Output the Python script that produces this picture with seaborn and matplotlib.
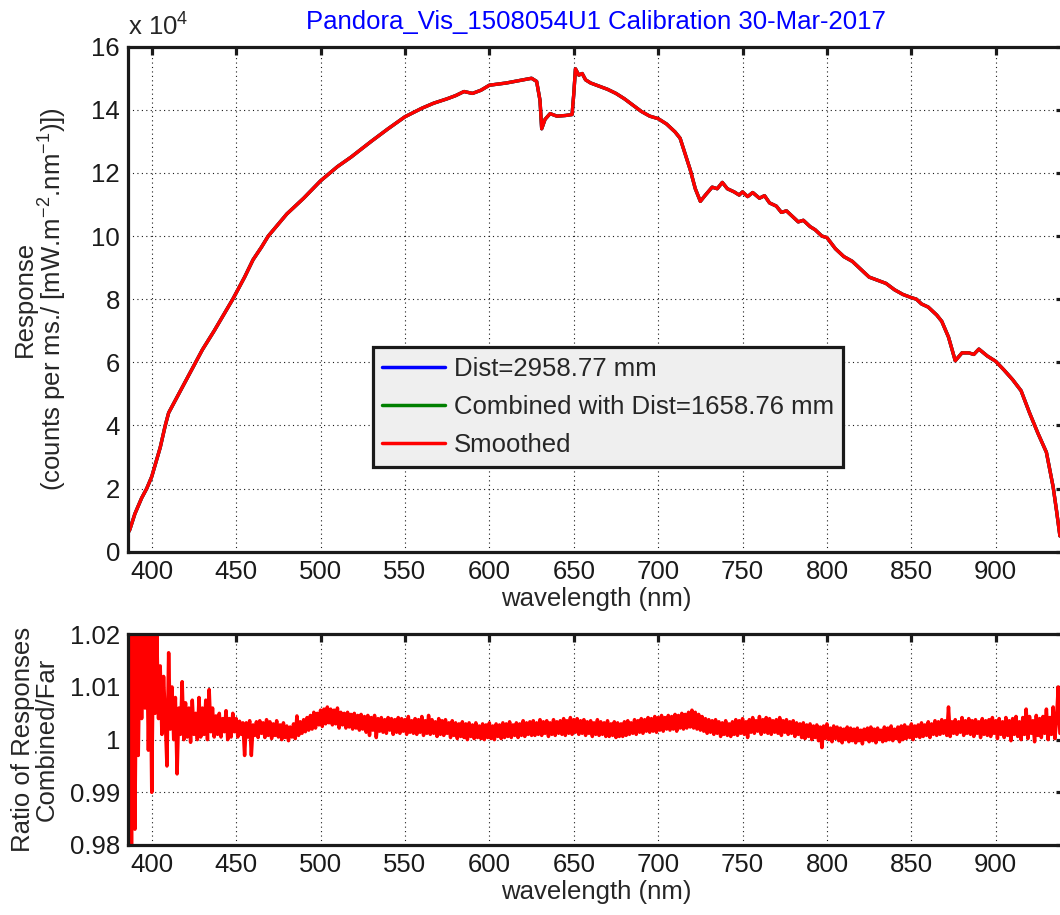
import numpy as np
import pandas as pd
import matplotlib
matplotlib.use("Agg")
import matplotlib.pyplot as plt
import seaborn as sns

# ---------------- data ----------------
title = "Pandora_Vis_1508054U1 Calibration 30-Mar-2017"
series_names = ["Dist=2958.77 mm", "Combined with Dist=1658.76 mm", "Smoothed"]
series_colors = ["#0000ff", "#008000", "#ff0000"]

wavelength = [386, 387, 390, 394, 397, 400, 405, 408, 410, 415, 420, 426, 430, 437,
              448, 455, 460, 465, 469, 480, 490, 500, 510, 518, 530, 540, 550, 560,
              567, 575, 580, 585, 590, 595, 600, 610, 620, 625, 628, 630, 631, 633,
              636, 640, 645, 649, 650, 651, 653, 655, 657, 660, 665, 670, 675, 680,
              685, 690, 695, 700, 705, 710, 713, 716, 719, 722, 725, 728, 732, 735,
              738, 741, 745, 748, 750, 753, 756, 760, 763, 766, 770, 773, 776, 780,
              783, 786, 790, 793, 797, 800, 805, 810, 815, 820, 825, 830, 835, 840,
              845, 850, 853, 856, 860, 865, 868, 872, 876, 880, 884, 887, 890, 895,
              900, 905, 910, 915, 920, 925, 930, 934, 936, 938]
# response in units of 1e4 counts per ms / [mW m-2 nm-1]
response = [0.60, 0.70, 1.20, 1.70, 2.00, 2.38, 3.30, 4.00, 4.40, 4.90, 5.40, 6.00,
            6.40, 7.00, 8.00, 8.70, 9.25, 9.65, 10.00, 10.70, 11.20, 11.75, 12.20,
            12.50, 13.00, 13.40, 13.78, 14.05, 14.21, 14.35, 14.45, 14.58, 14.52,
            14.62, 14.78, 14.85, 14.95, 15.00, 14.90, 14.30, 13.40, 13.70, 13.88,
            13.80, 13.82, 13.85, 14.50, 15.30, 15.10, 15.15, 14.95, 14.85, 14.75,
            14.65, 14.52, 14.35, 14.15, 13.95, 13.80, 13.72, 13.55, 13.30, 13.10,
            12.60, 12.10, 11.50, 11.10, 11.30, 11.55, 11.50, 11.70, 11.50, 11.40,
            11.30, 11.40, 11.25, 11.38, 11.20, 11.28, 11.05, 10.95, 10.75, 10.80,
            10.60, 10.45, 10.50, 10.30, 10.20, 10.00, 9.95, 9.60, 9.35, 9.20, 8.95,
            8.70, 8.60, 8.50, 8.30, 8.15, 8.05, 8.00, 7.85, 7.75, 7.50, 7.30, 6.80,
            6.05, 6.30, 6.30, 6.25, 6.42, 6.20, 6.03, 5.75, 5.45, 5.10, 4.40, 3.75,
            3.15, 2.05, 1.30, 0.50]

ratio_start_nm = 386
# ratio (Combined/Far) - 1, in units of 1e-4, one value per nm from 386 nm
ratio_dev_e4 = [
    -200, 200, -200, 200, -170, 200, -30, 200, 40, 200,
    60, 200, -20, 200, -100, 200, 50, 200, 40, 140,
    10, 120, 40, -50, 165, 20, 100, 0, 80, -65,
    60, 10, 110, 0, 70, 5, 60, -5, 75, 10,
    50, 0, 80, 5, 60, 10, 75, 0, 95, 15,
    60, 5, 45, 10, 50, 5, 40, 15, 55, 0,
    40, 5, 50, 15, 40, 5, 35, 10, 32, -30,
    32, 5, 36, -30, 28, 8, 34, 4, 36, 12,
    32, 4, 38, 8, 34, 2, 30, 8, 36, 5,
    28, 0, 32, 4, 26, -2, 24, 5, 30, 2,
    45, 8, 34, 12, 38, 15, 42, 18, 46, 20,
    52, 22, 50, 28, 56, 25, 58, 30, 62, 32,
    58, 28, 56, 30, 60, 22, 52, 28, 50, 22,
    52, 24, 48, 20, 50, 22, 46, 18, 48, 20,
    44, 14, 46, 8, 42, 18, 46, 4, 40, 16,
    42, 14, 38, 12, 42, 18, 40, 10, 38, 14,
    42, 12, 40, 16, 38, 10, 44, 14, 36, 12,
    40, 10, 38, 14, 44, 8, 36, 12, 46, 10,
    38, 12, 34, 6, 40, 10, 36, 8, 38, 12,
    32, 4, 36, 8, 32, 2, 30, 6, 34, 4,
    30, 0, 32, 6, 28, 2, 32, 4, 26, 2,
    30, 0, 28, 4, 32, 2, 26, 0, 30, 6,
    28, 2, 32, 4, 30, 6, 34, 4, 28, 8,
    32, 4, 30, 8, 36, 6, 32, 10, 34, 8,
    36, 8, 32, 10, 38, 8, 34, 12, 36, 6,
    32, 10, 38, 8, 34, 12, 36, 10, 40, 8,
    36, 12, 42, 10, 38, 14, 40, 10, 36, 12,
    38, 8, 34, 12, 36, 6, 32, 10, 38, 8,
    34, 10, 32, 6, 36, 6, 30, 8, 34, 4,
    32, 6, 30, 6, 34, 8, 36, 10, 32, 12,
    38, 10, 36, 14, 40, 12, 38, 16, 42, 14,
    40, 16, 44, 14, 42, 18, 46, 16, 42, 20,
    46, 18, 44, 20, 48, 16, 46, 22, 50, 20,
    48, 22, 52, 24, 56, 22, 52, 20, 48, 18,
    44, 16, 40, 12, 38, 14, 36, 10, 38, 12,
    34, 6, 32, 10, 36, 8, 30, 6, 34, 10,
    38, 8, 36, 12, 40, 10, 34, 4, 38, 14,
    42, 12, 36, 16, 44, 10, 38, 14, 42, 12,
    40, 10, 36, 14, 38, 12, 42, 8, 36, 14,
    38, 10, 34, 12, 36, 6, 32, 10, 30, 4,
    32, 2, 28, 6, 30, 0, 26, 4, 28, -2,
    24, -15, 26, 2, 30, 0, 22, -4, 26, 2,
    24, -2, 22, -6, 20, 0, 24, -4, 22, -2,
    20, -6, 22, -2, 18, -8, 20, 0, 22, -4,
    24, -2, 20, -6, 22, 0, 18, -4, 24, -2,
    22, 0, 26, -2, 20, 2, 24, -4, 26, 0,
    28, 2, 24, 4, 30, 0, 26, 6, 28, 4,
    32, 6, 28, 8, 34, 4, 30, 10, 36, 8,
    34, 10, 38, 12, 36, 8, 62, 6, 34, 12,
    38, 10, 34, 14, 42, 8, 36, 12, 40, 10,
    36, 6, 38, 12, 34, 4, 40, 10, 36, 8,
    38, 6, 42, 12, 36, 2, 40, 10, 34, 4,
    42, 8, 36, -2, 40, 10, 44, 6, 34, 0,
    42, 10, 58, 2, 44, 12, 36, -4, 46, 8,
    40, 4, 44, 12, 58, 0, 42, 10, 62, 2,
    38, 100, 12,
]

x_ticks = [400, 450, 500, 550, 600, 650, 700, 750, 800, 850, 900]
resp_ticks = [0, 2, 4, 6, 8, 10, 12, 14, 16]
ratio_ticks = [0.98, 0.99, 1.0, 1.01, 1.02]
ratio_tick_labels = ["0.98", "0.99", "1", "1.01", "1.02"]

# ---------------- style ----------------
sns.set_theme(style="white")
plt.rcParams["font.family"] = ["Liberation Sans", "DejaVu Sans"]
plt.rcParams["mathtext.fontset"] = "custom"
plt.rcParams["mathtext.rm"] = "Liberation Sans"
plt.rcParams["mathtext.it"] = "Liberation Sans"
FS = 18.5

W, H = 1060, 915
fig = plt.figure(figsize=(W / 100, H / 100), dpi=100)
ax_l, ax_w = 128.3, 935.2
ax1 = fig.add_axes([ax_l / W, 1 - 551.7 / H, ax_w / W, 505.0 / H])
ax2 = fig.add_axes([ax_l / W, 1 - 845.0 / H, ax_w / W, (845.0 - 634.3) / H])

df_resp = pd.DataFrame({"wl": wavelength, "resp": response})
ratio = 1 + np.array(ratio_dev_e4) * 1e-4
ratio_wl = np.arange(ratio_start_nm, ratio_start_nm + len(ratio))
df_ratio = pd.DataFrame({"wl": ratio_wl, "ratio": ratio})

for name, col in zip(series_names, series_colors):
    sns.lineplot(data=df_resp, x="wl", y="resp", ax=ax1, color=col, lw=2.4,
                 label=name, estimator=None, sort=False)

sns.lineplot(data=df_ratio, x="wl", y="ratio", ax=ax2, color="#ff0000", lw=2.5,
             estimator=None, sort=False, legend=False)

xmin, xmax = 386.1, 386.1 + ax_w / 1.688
for ax in (ax1, ax2):
    ax.set_xlim(xmin, xmax)
    ax.set_xticks(x_ticks)
    ax.grid(True, color="k", linestyle=(0, (1, 3)), linewidth=0.8)
    for s in ax.spines.values():
        s.set_linewidth(2.3)
        s.set_color("k")
    ax.tick_params(direction="in", length=6, width=2.3, top=True, right=True,
                   labelsize=FS, colors="k", pad=6)
    ax.set_xlabel("wavelength (nm)", fontsize=FS, labelpad=2)
    ax.set_facecolor("white")

ax1.set_ylim(0, 16)
ax1.set_yticks(resp_ticks)
ax1.set_yticklabels([str(t) for t in resp_ticks])
ax2.set_ylim(0.98, 1.02)
ax2.set_yticks(ratio_ticks)
ax2.set_yticklabels(ratio_tick_labels)

ax1.set_ylabel("Response\n(counts per ms./ [mW.m$^{-2}$.nm$^{-1}$)])",
               fontsize=FS, linespacing=1.0, labelpad=16)
ax2.set_ylabel("Ratio of Responses\nCombined/Far", fontsize=FS, linespacing=1.0,
               labelpad=8)
ax1.set_title(title, color="#0000ff", fontsize=FS, pad=13)
ax1.text(0.0, 1.012, r"x 10$^{4}$", transform=ax1.transAxes, fontsize=FS,
         ha="left", va="bottom")

leg = ax1.legend(loc="lower left", bbox_to_anchor=(0.2613, 0.1683),
                 borderaxespad=0, fontsize=FS, frameon=True, fancybox=False,
                 framealpha=1, facecolor="#efefef", edgecolor="k",
                 handlelength=2.45, handletextpad=0.35, labelspacing=0.56,
                 borderpad=0.36)
leg.get_frame().set_linewidth(2.3)
for h in leg.get_lines():
    h.set_linewidth(2.5)

fig.savefig("out.png", dpi=100, facecolor="white")
